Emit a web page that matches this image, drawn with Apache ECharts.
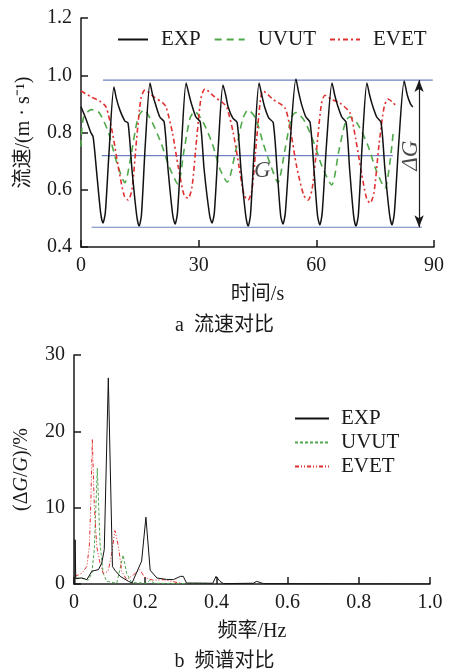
<!DOCTYPE html>
<html>
<head>
<meta charset="utf-8">
<script src="https://cdn.jsdelivr.net/npm/echarts@6/dist/echarts.min.js"></script>
<style>
	html, body { margin: 0; padding: 0; background: #fff; }
	#flow { width: 449px; height: 335px; }
	#spec { width: 449px; height: 336px; }
</style>
</head>
<body>
<div id="flow"></div>
<div id="spec"></div>
<script>
// a 流速对比: [time s, velocity m/s]
const expFlow = [
	[0, 0.89], [1.2, 0.85], [2.5, 0.80], [3.1, 0.784], [4.0, 0.66], [5.0, 0.52], [5.6, 0.484], [6.2, 0.52], [7.1, 0.72], [8.4, 0.959],
	[9.0, 0.92], [9.9, 0.879], [11.2, 0.84], [12.0, 0.833], [13.0, 0.67], [14.2, 0.51], [14.8, 0.473], [15.4, 0.51], [16.4, 0.76], [17.6, 0.973],
	[18.2, 0.935], [18.9, 0.903], [20.1, 0.854], [21.2, 0.837], [22.2, 0.67], [23.4, 0.51], [24.0, 0.48], [24.6, 0.52], [25.6, 0.75], [26.8, 0.973],
	[27.5, 0.935], [28.1, 0.903], [29.3, 0.854], [30.4, 0.837], [31.4, 0.67], [32.8, 0.51], [33.4, 0.484], [34.0, 0.52], [35.0, 0.75], [36.2, 0.966],
	[36.9, 0.93], [37.5, 0.89], [38.7, 0.85], [39.8, 0.835], [40.8, 0.67], [42.0, 0.51], [42.6, 0.473], [43.2, 0.51], [44.2, 0.75], [45.4, 0.973],
	[46.1, 0.93], [46.8, 0.89], [47.9, 0.85], [49.0, 0.835], [50.0, 0.67], [50.9, 0.51], [51.5, 0.48], [52.1, 0.52], [53.3, 0.76], [54.8, 0.987],
	[55.5, 0.94], [56.2, 0.90], [57.3, 0.855], [58.4, 0.835], [59.4, 0.67], [60.3, 0.51], [60.9, 0.477], [61.5, 0.52], [62.6, 0.76], [64.0, 0.973],
	[64.7, 0.93], [65.3, 0.90], [66.5, 0.854], [67.6, 0.835], [68.5, 0.67], [69.5, 0.51], [70.1, 0.473], [70.7, 0.51], [71.7, 0.76], [72.9, 0.973],
	[73.6, 0.93], [74.2, 0.90], [75.4, 0.854], [76.5, 0.835], [77.5, 0.67], [78.7, 0.51], [79.3, 0.477], [79.9, 0.52], [81.0, 0.76], [82.4, 0.98],
	[83.2, 0.93], [84.0, 0.90], [84.6, 0.889]
]
const uvutFlow = [
	[0, 0.75], [0.6, 0.85], [2.6, 0.88], [4.6, 0.87], [7, 0.80], [9, 0.70], [11.2, 0.625], [12.5, 0.70], [14.5, 0.85], [16.0, 0.879],
	[18, 0.84], [20.5, 0.76], [22.5, 0.68], [24.7, 0.62], [26.3, 0.74], [27.8, 0.85], [29, 0.873], [31, 0.84], [33.5, 0.76], [35.5, 0.67],
	[37.3, 0.627], [39.5, 0.74], [41.3, 0.85], [42.6, 0.879], [44.5, 0.85], [46.5, 0.76], [48.5, 0.68], [50.2, 0.625], [52, 0.74], [53.6, 0.85],
	[54.8, 0.87], [57, 0.84], [59.5, 0.76], [61.5, 0.68], [63.9, 0.617], [65.8, 0.74], [67.5, 0.84], [68.6, 0.855], [70.5, 0.83], [73, 0.76],
	[75.2, 0.67], [77.5, 0.606], [78.8, 0.70], [79.6, 0.80]
]
const evetFlow = [
	[0, 0.945], [2.5, 0.925], [5.1, 0.907], [6.4, 0.889], [8, 0.80], [9.5, 0.68], [11, 0.58], [12, 0.564], [13, 0.60], [14.2, 0.78],
	[15.3, 0.92], [16.3, 0.948], [18.5, 0.925], [20.9, 0.903], [21.7, 0.889], [23.3, 0.80], [24.8, 0.68], [26.3, 0.58], [27.3, 0.57], [28.3, 0.61],
	[29.5, 0.78], [30.6, 0.92], [31.6, 0.952], [34, 0.925], [36.2, 0.903], [37.2, 0.887], [38.8, 0.80], [40.3, 0.68], [41.6, 0.58], [42.6, 0.564],
	[43.6, 0.60], [44.8, 0.78], [45.8, 0.92], [46.4, 0.945], [49, 0.915], [52, 0.886], [53.5, 0.80], [55, 0.68], [56.8, 0.58], [57.9, 0.564],
	[58.9, 0.60], [60.2, 0.76], [61.3, 0.90], [62.2, 0.93], [64, 0.915], [66, 0.903], [68.6, 0.868], [70, 0.78], [71.5, 0.66], [72.8, 0.57],
	[73.7, 0.553], [74.7, 0.59], [76, 0.76], [77.3, 0.89], [78.3, 0.917], [79.5, 0.905], [80.6, 0.889]
]
// reference levels: max, mean G, min
const gMaxLine = [[5.6, 0.983], [89.7, 0.983]]
const gMeanLine = [[5.3, 0.719], [79.5, 0.719]]
const gMinLine = [[2.7, 0.469], [86.9, 0.469]]
const deltaArrow = [[86.2, 0.983], [86.2, 0.469]]

// b 频谱对比: [frequency Hz, (ΔG/G) %]
const expSpec = [
	[0.003, 0], [0.003, 5.8], [0.005, 0.7], [0.022, 0.8], [0.036, 0.57], [0.05, 1.67], [0.069, 1.9], [0.078, 2.75], [0.085, 4.5], [0.0964, 27],
	[0.108, 2.3], [0.115, 1.8], [0.13, 1.0], [0.153, 0.35], [0.163, 0.13], [0.19, 3.0], [0.202, 8.75], [0.214, 1.8], [0.233, 0.78], [0.26, 0.6],
	[0.279, 0.57], [0.299, 1.0], [0.307, 1.0], [0.316, 0.13], [0.39, 0.1], [0.399, 1.0], [0.41, 0.35], [0.42, 0.05], [0.504, 0.1], [0.513, 0.35],
	[0.532, 0.05], [1.0, 0]
]
const uvutSpec = [
	[0.007, 0.8], [0.026, 0.7], [0.04, 0.5], [0.05, 1.4], [0.057, 4.5], [0.0655, 15.2], [0.073, 5.4], [0.082, 1.4], [0.092, 0.35], [0.12, 0.1],
	[0.129, 1.9], [0.138, 3.8], [0.148, 1.4], [0.162, 0.2], [0.204, 0.1], [0.213, 0.5], [0.225, 0.1], [0.3, 0.05], [0.39, 0.02]
]
const evetSpec = [
	[0.003, 1.0], [0.022, 1.4], [0.036, 2.3], [0.043, 4.9], [0.047, 10.2], [0.0515, 19], [0.057, 10.2], [0.064, 4.9], [0.073, 2.75], [0.082, 1.4],
	[0.096, 1.66], [0.106, 4.0], [0.115, 7.0], [0.125, 4.9], [0.134, 1.66], [0.148, 0.57], [0.167, 1.2], [0.185, 1.9], [0.199, 0.8], [0.223, 0.5],
	[0.251, 0.57], [0.279, 0.3], [0.3, 0.1]
]

const serif = "'Liberation Serif', 'Times New Roman', 'Noto Sans CJK SC', serif"
const ink = '#1a1a1a'
const refBlue = '#6f80c4'

const axisBase = {
	axisLine: { lineStyle: { color: ink, width: 1.5 } },
	axisTick: { inside: true, length: 7, lineStyle: { color: ink, width: 1.5 } },
	axisLabel: { color: ink, fontFamily: serif, fontSize: 20, margin: 9 },
	splitLine: { show: false },
	nameTextStyle: { color: ink, fontFamily: serif, fontSize: 20 }
}

const flowChart = echarts.init(document.getElementById('flow'), null, { renderer: 'canvas' })
const refSeries = (data, extra) => Object.assign({
	type: 'line',
	data: data,
	symbol: 'none',
	silent: true,
	lineStyle: { color: refBlue, width: 1.2 },
	z: 1
}, extra || {})

flowChart.setOption({
	animation: false,
	textStyle: { fontFamily: serif },
	grid: { left: 81, right: 15, top: 18, bottom: 88 },
	title: {
		text: 'a  流速对比',
		left: 'center',
		top: 311,
		textStyle: { fontFamily: serif, fontSize: 20, fontWeight: 'normal', color: ink }
	},
	legend: {
		data: ['EXP', 'UVUT', 'EVET'],
		left: 112,
		top: 24,
		itemWidth: 30,
		itemHeight: 14,
		itemGap: 13,
		itemStyle: { opacity: 0 },
		textStyle: { fontFamily: serif, fontSize: 21, color: ink, padding: [0, 0, 0, 8] }
	},
	xAxis: Object.assign({}, axisBase, {
		type: 'value',
		min: 0,
		max: 90,
		interval: 30,
		name: '时间/s',
		nameLocation: 'middle',
		nameGap: 38
	}),
	yAxis: Object.assign({}, axisBase, {
		type: 'value',
		min: 0.4,
		max: 1.2,
		interval: 0.2,
		name: '流速/(m · s⁻¹)',
		nameLocation: 'middle',
		nameGap: 47,
		axisLabel: Object.assign({}, axisBase.axisLabel, { formatter: v => v.toFixed(1) })
	}),
	series: [
		refSeries(gMaxLine),
		refSeries(gMeanLine),
		refSeries(gMinLine),
		{
			type: 'line',
			data: [],
			silent: true,
			markLine: {
				silent: true,
				symbol: ['arrow', 'arrow'],
				symbolSize: [7, 12],
				label: { show: false },
				lineStyle: { color: ink, width: 1.2, type: 'solid' },
				data: [[{ coord: deltaArrow[0] }, { coord: deltaArrow[1] }]]
			}
		},
		{
			type: 'scatter',
			silent: true,
			symbolSize: 0,
			data: [[46.2, 0.665], [84.2, 0.719]],
			label: {
				show: true,
				position: 'inside',
				fontFamily: serif,
				fontSize: 23,
				fontStyle: 'italic',
				color: ink,
				formatter: p => (p.dataIndex === 0 ? 'G' : 'ΔG')
			},
			labelLayout: p => (p.dataIndex === 1 ? { rotate: 90 } : {})
		},
		{
			name: 'EXP',
			type: 'line',
			data: expFlow,
			symbol: 'none',
			smooth: 0.25,
			lineStyle: { color: '#111', width: 1.5 },
			itemStyle: { color: '#111' },
			z: 4
		},
		{
			name: 'UVUT',
			type: 'line',
			data: uvutFlow,
			symbol: 'none',
			smooth: 0.25,
			lineStyle: { color: '#4fa84a', width: 1.6, type: [7, 5] },
			itemStyle: { color: '#4fa84a' },
			z: 2
		},
		{
			name: 'EVET',
			type: 'line',
			data: evetFlow,
			symbol: 'none',
			smooth: 0.25,
			lineStyle: { color: '#e0302f', width: 1.6, type: [5, 3, 2, 3] },
			itemStyle: { color: '#e0302f' },
			z: 3
		}
	]
})

const specChart = echarts.init(document.getElementById('spec'), null, { renderer: 'canvas' })
specChart.setOption({
	animation: false,
	textStyle: { fontFamily: serif },
	grid: { left: 74, right: 19, top: 20, bottom: 87 },
	title: {
		text: 'b  频谱对比',
		left: 'center',
		top: 312,
		textStyle: { fontFamily: serif, fontSize: 20, fontWeight: 'normal', color: ink }
	},
	legend: {
		data: ['EXP', 'UVUT', 'EVET'],
		orient: 'vertical',
		left: 289,
		top: 68,
		itemWidth: 34,
		itemHeight: 14,
		itemGap: 3,
		itemStyle: { opacity: 0 },
		textStyle: { fontFamily: serif, fontSize: 21, color: ink, padding: [0, 0, 0, 7] }
	},
	xAxis: Object.assign({}, axisBase, {
		type: 'value',
		min: 0,
		max: 1,
		interval: 0.2,
		name: '频率/Hz',
		nameLocation: 'middle',
		nameGap: 38,
		axisLabel: Object.assign({}, axisBase.axisLabel, { formatter: v => (v === 0 ? '0' : v.toFixed(1)) })
	}),
	yAxis: Object.assign({}, axisBase, {
		type: 'value',
		min: 0,
		max: 30,
		interval: 10,
		name: '(Δ{i|G}/{i|G})/%',
		nameLocation: 'middle',
		nameGap: 42,
		nameTextStyle: Object.assign({}, axisBase.nameTextStyle, {
			rich: { i: { fontFamily: serif, fontSize: 20, fontStyle: 'italic', color: ink } }
		})
	}),
	series: [
		{
			name: 'EXP',
			type: 'line',
			data: expSpec,
			symbol: 'none',
			lineStyle: { color: '#111', width: 1 },
			itemStyle: { color: '#111' },
			z: 4
		},
		{
			name: 'UVUT',
			type: 'line',
			data: uvutSpec,
			symbol: 'none',
			lineStyle: { color: '#4ea84e', width: 1, type: [3, 2] },
			itemStyle: { color: '#4ea84e' },
			z: 2
		},
		{
			name: 'EVET',
			type: 'line',
			data: evetSpec,
			symbol: 'none',
			lineStyle: { color: '#e0302f', width: 1, type: [4, 2, 1, 2, 1, 2] },
			itemStyle: { color: '#e0302f' },
			z: 3
		}
	]
})
</script>
</body>
</html>
